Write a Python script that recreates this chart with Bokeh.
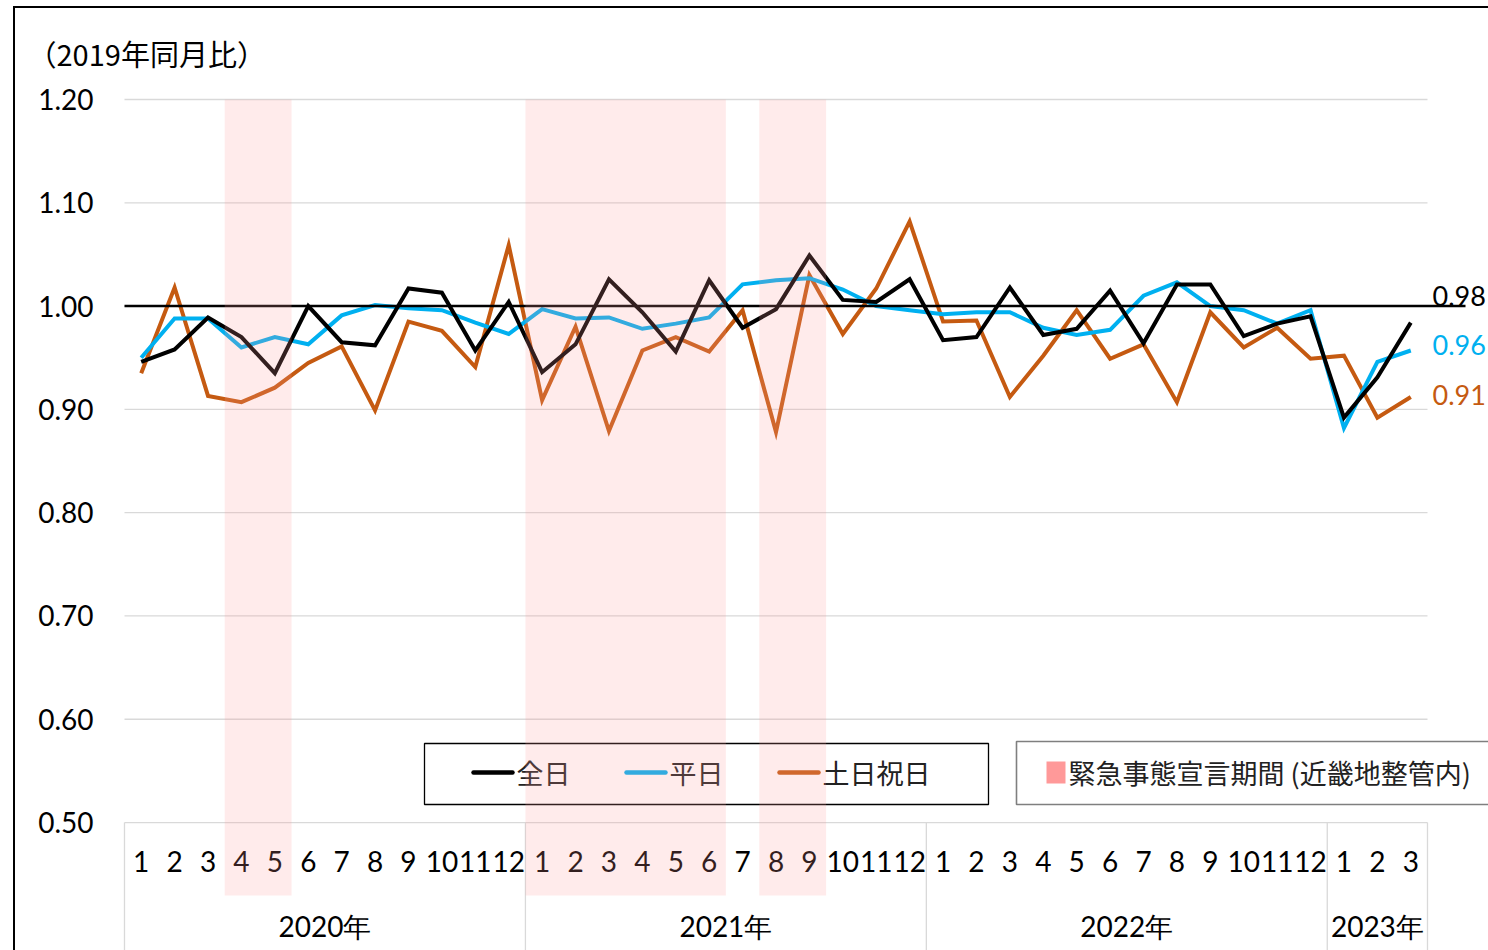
from bokeh.plotting import figure
from bokeh.models import Range1d
from bokeh.core.properties import value
from bokeh.embed import file_html
from bokeh.resources import INLINE

# ---------------- data ----------------
years = ["2020年", "2021年", "2022年", "2023年"]
months_per_year = [12, 12, 12, 3]
month_labels = ["1", "2", "3", "4", "5", "6", "7", "8", "9", "10", "11", "12",
                "1", "2", "3", "4", "5", "6", "7", "8", "9", "10", "11", "12",
                "1", "2", "3", "4", "5", "6", "7", "8", "9", "10", "11", "12",
                "1", "2", "3"]

all_day = [0.946, 0.958, 0.989, 0.970, 0.935, 1.000, 0.965, 0.962, 1.017, 1.013, 0.957, 1.004,
           0.936, 0.963, 1.026, 0.994, 0.956, 1.025, 0.979, 0.997, 1.049, 1.006, 1.004, 1.026,
           0.967, 0.970, 1.018, 0.972, 0.978, 1.015, 0.964, 1.021, 1.021, 0.971, 0.983, 0.990,
           0.892, 0.931, 0.984]
weekday = [0.950, 0.988, 0.988, 0.960, 0.970, 0.963, 0.991, 1.001, 0.998, 0.996, 0.984, 0.973,
           0.997, 0.988, 0.989, 0.978, 0.983, 0.989, 1.021, 1.025, 1.027, 1.016, 1.000, 0.996,
           0.992, 0.994, 0.994, 0.979, 0.972, 0.977, 1.010, 1.023, 1.000, 0.996, 0.983, 0.996,
           0.882, 0.946, 0.957]
holiday = [0.935, 1.018, 0.913, 0.907, 0.921, 0.945, 0.961, 0.899, 0.985, 0.976, 0.941, 1.059,
           0.909, 0.980, 0.879, 0.957, 0.970, 0.956, 0.996, 0.878, 1.030, 0.973, 1.017, 1.082,
           0.985, 0.986, 0.912, 0.952, 0.996, 0.949, 0.963, 0.907, 0.994, 0.960, 0.979, 0.949,
           0.952, 0.892, 0.912]

series_names = ["全日", "平日", "土日祝日"]
emergency_start = [3, 12, 19]   # month index (0 = 2020年1月)
emergency_end = [4, 17, 20]
y_ticks = [0.50, 0.60, 0.70, 0.80, 0.90, 1.00, 1.10, 1.20]
baseline = 1.00
title_text = "（2019年同月比）"
emergency_label = "緊急事態宣言期間 (近畿地整管内)"

# ---------------- styling ----------------
BLACK = "#000000"
BLUE = "#00B0F0"
ORANGE = "#C55A11"
PINK = "#FF9999"
GRID = "#D9D9D9"
NUM_FONT = value("Lato")
JP_FONT = value("Noto Sans CJK JP")

# page-pixel helpers (layout only)
X0_PX, PX_PER_MONTH = 124.0, 33.41
Y120_PX, PX_PER_UNIT = 99.0, 1032.9
W, H = 1488, 950
LEFT = 12


def px2x(px):
    return (px - X0_PX) / PX_PER_MONTH


def px2y(py):
    return 1.2 - (py - Y120_PX) / PX_PER_UNIT


n = len(month_labels)
xs = [i + 0.5 for i in range(n)]

p = figure(width=W, height=H, output_backend="svg", toolbar_location=None,
           x_range=Range1d(px2x(LEFT), px2x(W)), y_range=Range1d(px2y(H), px2y(0)),
           x_axis_location=None, y_axis_location=None,
           min_border_left=LEFT, min_border_right=0, min_border_top=0, min_border_bottom=0)
p.xgrid.visible = False
p.ygrid.visible = False
p.outline_line_color = None
p.background_fill_color = "white"
p.border_fill_color = "white"

# grid lines
p.segment(x0=[0] * len(y_ticks), x1=[n] * len(y_ticks), y0=y_ticks, y1=y_ticks,
          line_color=GRID, line_width=1.3)

# category axis box
bounds = [0]
for c in months_per_year:
    bounds.append(bounds[-1] + c)
p.segment(x0=bounds, x1=bounds, y0=[0.5] * len(bounds), y1=[px2y(960)] * len(bounds),
          line_color=GRID, line_width=1.3)

# y tick labels
p.text(x=[px2x(93)] * len(y_ticks), y=y_ticks, text=[f"{t:.2f}" for t in y_ticks],
       text_font=NUM_FONT, text_font_size="28px", text_align="right",
       text_baseline="middle", text_color="black")

# month labels
p.text(x=xs, y=[px2y(861)] * n, text=month_labels, text_font=NUM_FONT,
       text_font_size="28px", text_align="center", text_baseline="middle",
       text_color="black")

# year labels
year_x = [(bounds[i] + bounds[i + 1]) / 2 for i in range(len(years))]
p.text(x=year_x, y=[px2y(925)] * len(years), text=years, text_font=NUM_FONT,
       text_font_size="28px", text_align="center", text_baseline="middle",
       text_color="black")

# title
p.text(x=[px2x(27)], y=[px2y(52)], text=[title_text], text_font=JP_FONT,
       text_font_size="29px", text_align="left", text_baseline="middle",
       text_color="black")

# data lines
for ys, col in [(holiday, ORANGE), (weekday, BLUE), (all_day, BLACK)]:
    p.line(xs, ys, line_color=col, line_width=4, line_join="miter")

# baseline 1.00
p.segment(x0=[0], x1=[px2x(1465)], y0=[baseline], y1=[baseline],
          line_color=BLACK, line_width=2.5)

# end labels
end_vals = [all_day[-1], weekday[-1], holiday[-1]]
end_cols = [BLACK, BLUE, ORANGE]
end_py = [295, 344, 394]
p.text(x=[px2x(1432)] * 3, y=[px2y(v) for v in end_py],
       text=[f"{v:.2f}" for v in end_vals], text_color=end_cols,
       text_font=NUM_FONT, text_font_size="27px", text_align="left",
       text_baseline="middle")

# legend box 1
p.quad(left=[px2x(424)], right=[px2x(988)], top=[px2y(743)], bottom=[px2y(804)],
       fill_color="white", line_color=BLACK, line_width=1.3)
leg_line_px = [473, 626, 779]
leg_cols = [BLACK, BLUE, ORANGE]
p.segment(x0=[px2x(v) for v in leg_line_px], x1=[px2x(v + 39) for v in leg_line_px],
          y0=[px2y(772)] * 3, y1=[px2y(772)] * 3, line_color=leg_cols,
          line_width=4.5, line_cap="round")
p.text(x=[px2x(v + 43) for v in leg_line_px], y=[px2y(772)] * 3, text=series_names,
       text_font=JP_FONT, text_font_size="27px", text_align="left",
       text_baseline="middle", text_color="#222222")

# legend box 2
p.quad(left=[px2x(1016)], right=[px2x(1530)], top=[px2y(741)], bottom=[px2y(804)],
       fill_color="white", line_color="#7F7F7F", line_width=1.6)
p.quad(left=[px2x(1046)], right=[px2x(1065)], top=[px2y(761)], bottom=[px2y(783)],
       fill_color=PINK, line_color=None)
p.text(x=[px2x(1068)], y=[px2y(772)], text=[emergency_label], text_font=JP_FONT,
       text_font_size="27px", text_align="left", text_baseline="middle",
       text_color="#222222")

# emergency periods (drawn on top, translucent)
p.quad(left=emergency_start, right=[e + 1 for e in emergency_end],
       top=[y_ticks[-1]] * len(emergency_start), bottom=[px2y(895)] * len(emergency_start),
       fill_color=PINK, fill_alpha=0.2, line_color=None)

# chart border (left & top)
p.segment(x0=[px2x(13.5)], x1=[px2x(13.5)], y0=[px2y(6)], y1=[px2y(960)],
          line_color=BLACK, line_width=2)
p.segment(x0=[px2x(12.5)], x1=[px2x(1500)], y0=[px2y(6.5)], y1=[px2y(6.5)],
          line_color=BLACK, line_width=2)

open("out.html", "w").write(file_html(p, INLINE))
